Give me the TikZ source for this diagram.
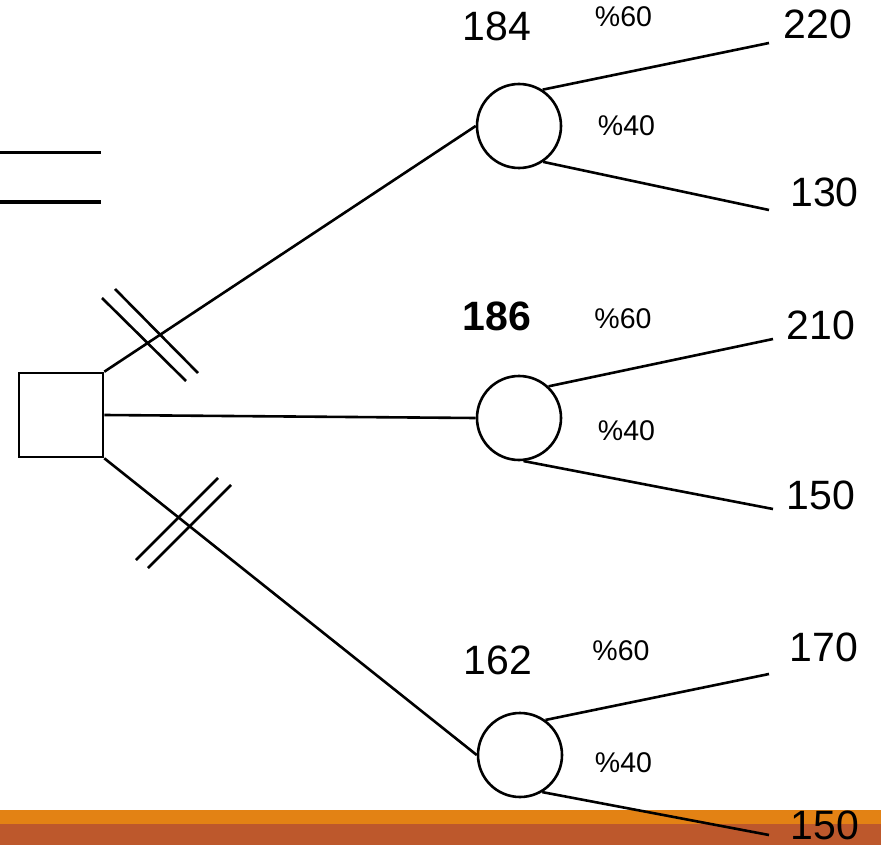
\documentclass[tikz,border=0pt]{standalone}
\usepackage{fontspec}
\setmainfont{Liberation Sans}
\definecolor{barorange}{HTML}{E38214}
\definecolor{barbrown}{HTML}{BD582C}
\begin{document}
\begin{tikzpicture}[x=1pt,y=-1pt,
  branch/.style={line width=2.6pt},
  decision/.style={draw,line width=2.6pt,minimum size=84pt,inner sep=0pt,shape=rectangle},
  chance/.style={draw,line width=2.6pt,circle,minimum size=84pt,inner sep=0pt},
  value/.style={font=\fontsize{41}{41}\selectfont,inner sep=0pt,anchor=center},
  prob/.style={font=\fontsize{28.5}{28.5}\selectfont,inner sep=0pt,anchor=center}]
\useasboundingbox (0,0) rectangle (881,845);
% footer bars
\fill[barorange] (0,810) rectangle (881,824);
\fill[barbrown] (0,824) rectangle (881,845);
% two rules at the left edge
\draw[line width=3pt] (0,153) -- (101,153);
\draw[line width=4.5pt] (0,202) -- (101,202);
% decision and chance nodes
\node[decision] (sq) at (61,415) {};
\node[chance] (c1) at (519,126) {};
\node[chance] (c2) at (519,418) {};
\node[chance] (c3) at (520,755) {};
% outcome end points
\coordinate (e1a) at (769,43);
\coordinate (e1b) at (769,210);
\coordinate (e2a) at (773,339);
\coordinate (e2b) at (773,509);
\coordinate (e3a) at (769,674);
\coordinate (e3b) at (769,835);
% decision branches
\draw[branch] (sq.north east) -- (c1.west);
\draw[branch] (sq.east) -- (c2.west);
\draw[branch] (sq.south east) -- (c3.west);
% pruning marks on rejected alternatives
\draw[branch] (102,298) -- (186,381);
\draw[branch] (115,289) -- (198,373);
\draw[branch] (218,478) -- (136,560);
\draw[branch] (231,485) -- (148,568);
% chance branches
\draw[branch] (c1.57) -- (e1a);
\draw[branch] (c1.-56) -- (e1b);
\draw[branch] (c2.47) -- (e2a);
\draw[branch] (c2.-84) -- (e2b);
\draw[branch] (c3.54) -- (e3a);
\draw[branch] (c3.-59) -- (e3b);
% expected values
\node[value] (ev1) at (497,26) {184};
\node[value] (ev2) at (497,316) {\bfseries 186};
\node[value] (ev3) at (498,660) {162};
% probabilities
\node[prob] (p1a) at (623.5,17) {\%60};
\node[prob] (p1b) at (626.5,126) {\%40};
\node[prob] (p2a) at (623,319) {\%60};
\node[prob] (p2b) at (626.5,431) {\%40};
\node[prob] (p3a) at (621,651) {\%60};
\node[prob] (p3b) at (623.5,762.5) {\%40};
% payoffs
\node[value] (v1a) at (818,24.5) {220};
\node[value] (v1b) at (824.5,192.5) {130};
\node[value] (v2a) at (821,325) {210};
\node[value] (v2b) at (821,495) {150};
\node[value] (v3a) at (824,647) {170};
\node[value] (v3b) at (825,825) {150};
\end{tikzpicture}
\end{document}
